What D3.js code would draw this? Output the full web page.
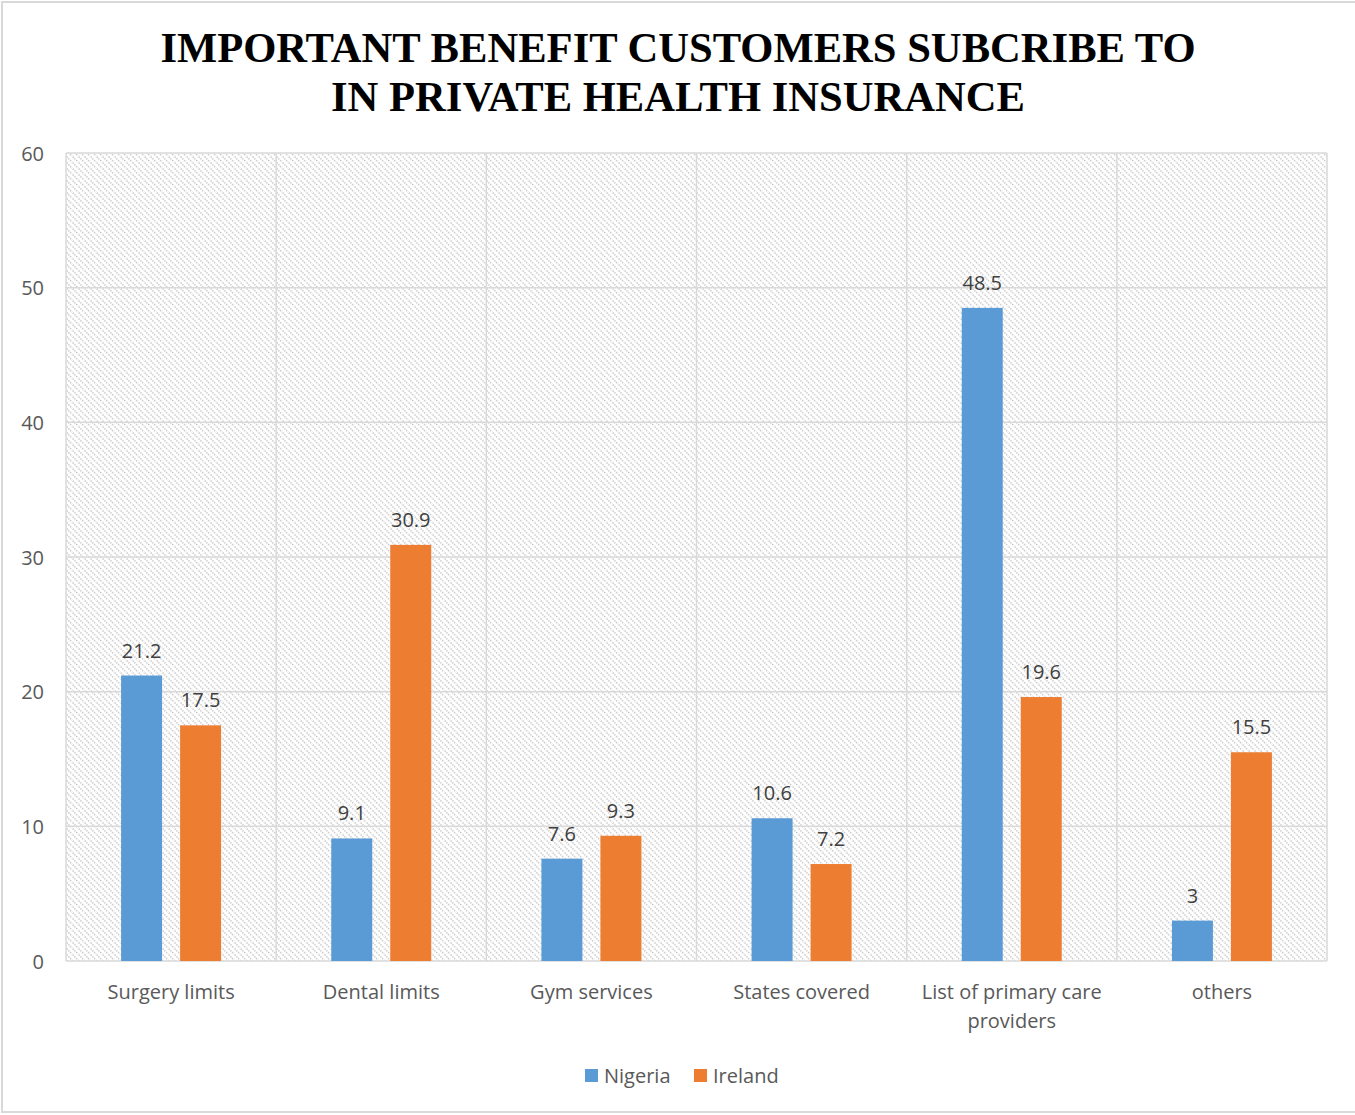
<!DOCTYPE html>
<html>
<head>
<meta charset="utf-8">
<script src="https://cdn.jsdelivr.net/npm/d3@7"></script>
<style>
  html, body { margin: 0; padding: 0; background: #fff; }
  svg { display: block; }
</style>
</head>
<body>
<div id="chart"></div>
<script>
// Benefit categories and share of respondents (%) per country
const categories = ["Surgery limits", "Dental limits", "Gym services", "States covered", "List of primary care providers", "others"];
const nigeria = [21.2, 9.1, 7.6, 10.6, 48.5, 3];
const ireland = [17.5, 30.9, 9.3, 7.2, 19.6, 15.5];
const seriesNames = ["Nigeria", "Ireland"];
const seriesColors = ["#5b9bd5", "#ed7d31"];
const yTicks = [0, 10, 20, 30, 40, 50, 60];
const titleLines = ["IMPORTANT BENEFIT CUSTOMERS SUBCRIBE TO", "IN PRIVATE HEALTH INSURANCE"];

const W = 1355, H = 1115;
const plot = { left: 66, right: 1327, top: 153, bottom: 961 };
const labelFont = "'Open Sans', 'Liberation Sans', sans-serif";
const labelSize = 20;

const svg = d3.select("#chart").append("svg").attr("width", W).attr("height", H);

// light diagonal hatch used for the plot background
const defs = svg.append("defs");
const pat = defs.append("pattern")
  .attr("id", "hatch").attr("patternUnits", "userSpaceOnUse")
  .attr("width", 6).attr("height", 6);
pat.append("path")
  .attr("d", "M-1,-1 L7,7 M-1,5 L1,7 M5,-1 L7,1")
  .attr("stroke", "#cfcfcf").attr("stroke-width", 1.7).attr("stroke-dasharray", "1.4,1");

// outer chart border
svg.append("rect").attr("x", 2).attr("y", 2).attr("width", W + 4).attr("height", 1110)
  .attr("fill", "none").attr("stroke", "#d9d9d9").attr("stroke-width", 2);

// title
const title = svg.append("text")
  .attr("text-anchor", "middle")
  .attr("font-family", "'Liberation Serif', 'Times New Roman', serif")
  .attr("font-weight", "bold").attr("font-size", 42.6).attr("fill", "#000");
titleLines.forEach((t, i) => {
  title.append("tspan").attr("x", 678).attr("y", 62 + i * 49).text(t);
});

const x0 = d3.scaleBand().domain(categories).range([plot.left, plot.right]).paddingInner(0).paddingOuter(0);
const y = d3.scaleLinear().domain([0, 60]).range([plot.bottom, plot.top]);
const barW = 41, barGap = 18;
const x1 = d3.scaleOrdinal().domain(seriesNames).range([-(barW + barGap / 2), barGap / 2]);

// plot background
svg.append("rect")
  .attr("x", plot.left).attr("y", plot.top)
  .attr("width", plot.right - plot.left).attr("height", plot.bottom - plot.top)
  .attr("fill", "url(#hatch)");

// horizontal gridlines
svg.append("g").selectAll("line").data(yTicks).join("line")
  .attr("x1", plot.left).attr("x2", plot.right)
  .attr("y1", d => y(d)).attr("y2", d => y(d))
  .attr("stroke", "#d9d9d9").attr("stroke-width", 1.5);

// vertical gridlines at category boundaries
const bounds = categories.map(c => x0(c)).concat([plot.right]);
svg.append("g").selectAll("line").data(bounds).join("line")
  .attr("x1", d => d).attr("x2", d => d)
  .attr("y1", plot.top).attr("y2", plot.bottom)
  .attr("stroke", "#d9d9d9").attr("stroke-width", 1.5);

// y-axis labels
const yAxis = d3.axisLeft(y).tickValues(yTicks).tickSize(0).tickPadding(0);
const yg = svg.append("g").attr("transform", `translate(44,0)`).call(yAxis);
yg.select(".domain").remove();
yg.selectAll("text").attr("font-family", labelFont).attr("font-size", labelSize).attr("fill", "#595959")
  .attr("dy", "0.35em");

// bars and value labels
const data = categories.map((c, i) => ({ cat: c, values: [nigeria[i], ireland[i]] }));
const groups = svg.append("g").selectAll("g").data(data).join("g")
  .attr("transform", d => `translate(${x0(d.cat) + x0.bandwidth() / 2},0)`);

groups.selectAll("rect").data(d => d.values.map((v, j) => ({ v, s: seriesNames[j], j })))
  .join("rect")
  .attr("x", d => x1(d.s)).attr("width", barW)
  .attr("y", d => y(d.v)).attr("height", d => y(0) - y(d.v))
  .attr("fill", d => seriesColors[d.j]);

groups.selectAll("text.val").data(d => d.values.map((v, j) => ({ v, s: seriesNames[j], j })))
  .join("text").attr("class", "val")
  .attr("x", d => x1(d.s) + barW / 2).attr("y", d => y(d.v) - 18)
  .attr("text-anchor", "middle")
  .attr("font-family", labelFont).attr("font-size", labelSize).attr("fill", "#404040")
  .text(d => d.v);

// x-axis category labels (wrapped to the band width)
const xAxis = d3.axisBottom(x0).tickSize(0).tickPadding(0);
const xg = svg.append("g").attr("transform", `translate(0,${plot.bottom})`).call(xAxis);
xg.select(".domain").remove();
xg.selectAll("text").remove();
xg.selectAll(".tick").each(function(d) {
  const words = d.split(" ");
  const lines = [];
  let cur = "";
  words.forEach(w => {
    const test = cur ? cur + " " + w : w;
    if (test.length > 24 && cur) { lines.push(cur); cur = w; } else cur = test;
  });
  lines.push(cur);
  const t = d3.select(this).append("text")
    .attr("text-anchor", "middle")
    .attr("font-family", labelFont).attr("font-size", labelSize).attr("fill", "#595959");
  lines.forEach((l, i) => t.append("tspan").attr("x", 0).attr("y", 38 + i * 29).text(l));
});

// legend
const legend = svg.append("g").attr("transform", "translate(585,1076)");
const legendX = [0, 109];
seriesNames.forEach((s, i) => {
  const g = legend.append("g").attr("transform", `translate(${legendX[i]},0)`);
  g.append("rect").attr("x", 0).attr("y", -7).attr("width", 13).attr("height", 13).attr("fill", seriesColors[i]);
  g.append("text").attr("x", 19).attr("y", 0).attr("dy", "0.35em")
    .attr("font-family", labelFont).attr("font-size", labelSize).attr("fill", "#595959").text(s);
});
</script>
</body>
</html>
